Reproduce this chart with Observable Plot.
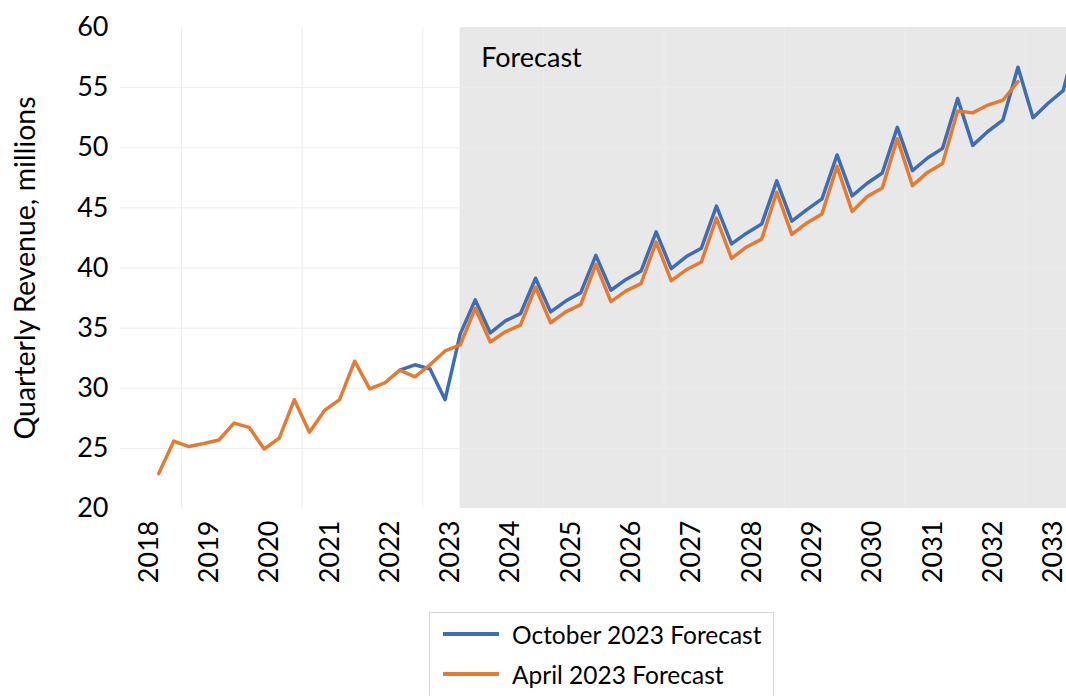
<!DOCTYPE html>
<html><head><meta charset="utf-8">
<script src="https://cdn.jsdelivr.net/npm/d3@7"></script>
<script src="https://cdn.jsdelivr.net/npm/@observablehq/plot@0.6"></script>
<style>
body{margin:0;background:#fff;font-family:Lato,"Open Sans",sans-serif;}
#chart svg{overflow:visible;}
#legend{margin-left:429px;margin-top:12px;width:345px;border:1px solid #d9d9d9;border-bottom:none;padding-top:1px;height:84px;box-sizing:border-box;}
.row{display:flex;align-items:center;height:40px;font-size:24.5px;color:#000;white-space:nowrap;}
.sw{width:56px;height:3.5px;margin-left:13px;margin-right:13px;flex:none;}
</style></head><body>
<div id="chart"></div>
<div id="legend"></div>
<script>
// Year tick labels
const years = [2018,2019,2020,2021,2022,2023,2024,2025,2026,2027,2028,2029,2030,2031,2032,2033];
const yTicks = [20,25,30,35,40,45,50,55,60];
const firstQuarter = 2018.16;   // position of the first quarter on the year axis
const forecastStartIndex = 20;  // first forecast quarter (shaded region)
const blueStartIndex = 16;

// April 2023 Forecast (history + forecast), quarterly
const aprilValues = [22.9,25.6,25.15,25.4,25.7,27.1,26.75,24.95,25.85,29.05,26.35,28.15,29.05,32.25,29.95,30.45,
  31.5,30.95,31.95,33.1,33.6,36.65,33.85,34.7,35.25,38.4,35.45,36.35,36.95,40.3,37.2,38.1,38.7,42.15,38.95,39.85,
  40.5,44.15,40.8,41.75,42.4,46.3,42.8,43.75,44.5,48.45,44.7,45.95,46.65,50.75,46.85,47.95,48.7,53.05,52.9,53.55,53.95,55.5];
// October 2023 Forecast, starting at quarter index 16
const octoberValues = [31.5,31.95,31.6,29.05,34.5,37.35,34.6,35.6,36.2,39.15,36.35,37.25,37.95,41.05,38.15,39.05,
  39.75,43.0,39.95,40.95,41.65,45.15,42.0,42.9,43.65,47.25,43.9,44.85,45.75,49.4,46.0,47.05,47.9,51.7,48.1,49.15,
  49.95,54.1,50.2,51.35,52.3,56.7,52.5,53.7,54.75,59.5];
const seriesNames = ["October 2023 Forecast","April 2023 Forecast"];
const seriesColors = ["#3E6DB5","#E37B32"];

const qx = i => firstQuarter + i * 0.25;
const april = aprilValues.map((v,i) => ({x: qx(i), v}));
const october = octoberValues.map((v,i) => ({x: qx(i + blueStartIndex), v}));

const xDomain = [2017.527, 2033.215];
const vGrid = d3.range(2018.54, 2034, 2);
const hGrid = [25,30,35,40,45,50,55];

const chart = Plot.plot({
  width: 1066, height: 600,
  marginLeft: 120, marginRight: 0, marginTop: 27, marginBottom: 92,
  style: {fontFamily: "Lato, 'Open Sans', sans-serif", fontSize: "27px", color: "#000", background: "#fff", overflow: "visible"},
  x: {domain: xDomain},
  y: {domain: [20, 60]},
  marks: [
    Plot.rect([0], {x1: qx(forecastStartIndex), x2: xDomain[1], y1: 20, y2: 60, fill: "#e8e8e8"}),
    Plot.ruleY(hGrid, {stroke: "#ececec", strokeWidth: 1}),
    Plot.ruleX(vGrid, {y1: 20, y2: 60, stroke: "#ececec", strokeWidth: 1}),
    Plot.axisX(years, {tickFormat: d => String(d), tickRotate: -90, tickSize: 0, tickPadding: 12, label: null, fontSize: 27}),
    Plot.axisY(yTicks, {tickSize: 0, tickPadding: 12, label: null, fontSize: 27}),
    Plot.text(["Quarterly Revenue, millions"], {frameAnchor: "left", text: d => d, rotate: -90, textAnchor: "middle", dx: -95, fontSize: 28.5, fill: "#000"}),
    Plot.lineY(october, {x: "x", y: "v", stroke: seriesColors[0], strokeWidth: 3.5, clip: true}),
    Plot.lineY(april, {x: "x", y: "v", stroke: seriesColors[1], strokeWidth: 3.5, clip: true}),
    Plot.text(["Forecast"], {x: qx(forecastStartIndex), y: 60, text: d => d, textAnchor: "start", lineAnchor: "top", dx: 21, dy: 20, fontSize: 27, fill: "#000"})
  ]
});
document.getElementById("chart").appendChild(chart);

const legend = document.getElementById("legend");
seriesNames.forEach((name, i) => {
  const row = document.createElement("div");
  row.className = "row";
  const sw = document.createElement("div");
  sw.className = "sw";
  sw.style.background = seriesColors[i];
  const t = document.createElement("span");
  t.textContent = name;
  row.appendChild(sw); row.appendChild(t);
  legend.appendChild(row);
});
</script></body></html>
